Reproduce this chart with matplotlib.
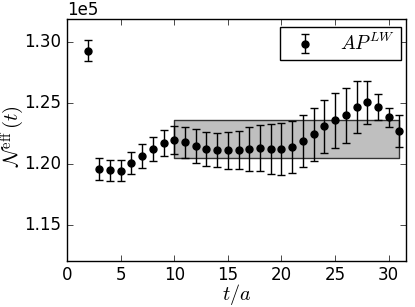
import matplotlib
matplotlib.use("Agg")
import matplotlib.pyplot as plt
import numpy as np

plt.style.use("classic")
plt.rcParams['mathtext.fontset'] = 'cm'
plt.rcParams['font.family'] = ['DejaVu Sans']

t = [2, 3, 4, 5, 6, 7, 8, 9, 10, 11, 12, 13, 14, 15, 16, 17, 18, 19, 20,
     21, 22, 23, 24, 25, 26, 27, 28, 29, 30, 31]
N_eff = [1.2931, 1.1959, 1.1948, 1.1945, 1.2008, 1.2063, 1.2121, 1.2173,
         1.2197, 1.2178, 1.2148, 1.2126, 1.2112, 1.2112, 1.2112, 1.2123,
         1.2134, 1.2123, 1.2123, 1.2142, 1.2186, 1.2244, 1.2310, 1.2359,
         1.2400, 1.2466, 1.2507, 1.2469, 1.2384, 1.2271]
N_err = [0.0088, 0.0088, 0.0086, 0.0089, 0.0093, 0.0100, 0.0100, 0.0107,
         0.0115, 0.0126, 0.0137, 0.0140, 0.0140, 0.0150, 0.0157, 0.0177,
         0.0190, 0.0203, 0.0210, 0.0215, 0.0213, 0.0217, 0.0220, 0.0225,
         0.0226, 0.0214, 0.0178, 0.0108, 0.0078, 0.0129]
fit_range = [10, 31]
fit_value = 1.2206
fit_error = 0.0157
scale = 1e5

fig = plt.figure(figsize=(4.15, 3.07), dpi=100)
fig.patch.set_facecolor('white')
ax = fig.add_axes([0.1614, 0.1508, 0.8166, 0.7872])

ax.fill_between(fit_range, (fit_value - fit_error) * scale, (fit_value + fit_error) * scale,
                facecolor='#bfbfbf', edgecolor='#333333', linewidth=1.0, zorder=1)
ax.errorbar(t, np.array(N_eff) * scale, yerr=np.array(N_err) * scale, fmt='o',
            color='black', ecolor='black', markersize=5, capsize=3, elinewidth=1,
            markeredgewidth=1, label=r'$AP^{LW}$', zorder=3)

ax.set_xlim(0, 31.6)
ax.set_ylim(1.1204 * scale, 1.3192 * scale)
ax.set_xticks([0, 5, 10, 15, 20, 25, 30])
ax.set_yticks(np.array([1.15, 1.20, 1.25, 1.30]) * scale)
ax.ticklabel_format(axis='y', style='sci', scilimits=(0, 0))
ax.tick_params(labelsize=12)
ax.yaxis.get_offset_text().set_fontsize(12)
ax.set_xlabel(r'$t/a$', fontsize=14.5)
ax.set_ylabel(r'$\mathcal{N}^{\rm eff}\,(t)$', fontsize=15)
ax.xaxis.set_label_coords(0.5, -0.09)
ax.yaxis.set_label_coords(-0.118, 0.516)
leg = ax.legend(loc='upper right', bbox_to_anchor=(0.986, 0.9657), numpoints=1,
                fontsize=14, borderaxespad=0.0, borderpad=0.3, handletextpad=0.8)
leg.get_frame().set_linewidth(1.0)

fig.savefig('out.png', dpi=100, facecolor='white')
